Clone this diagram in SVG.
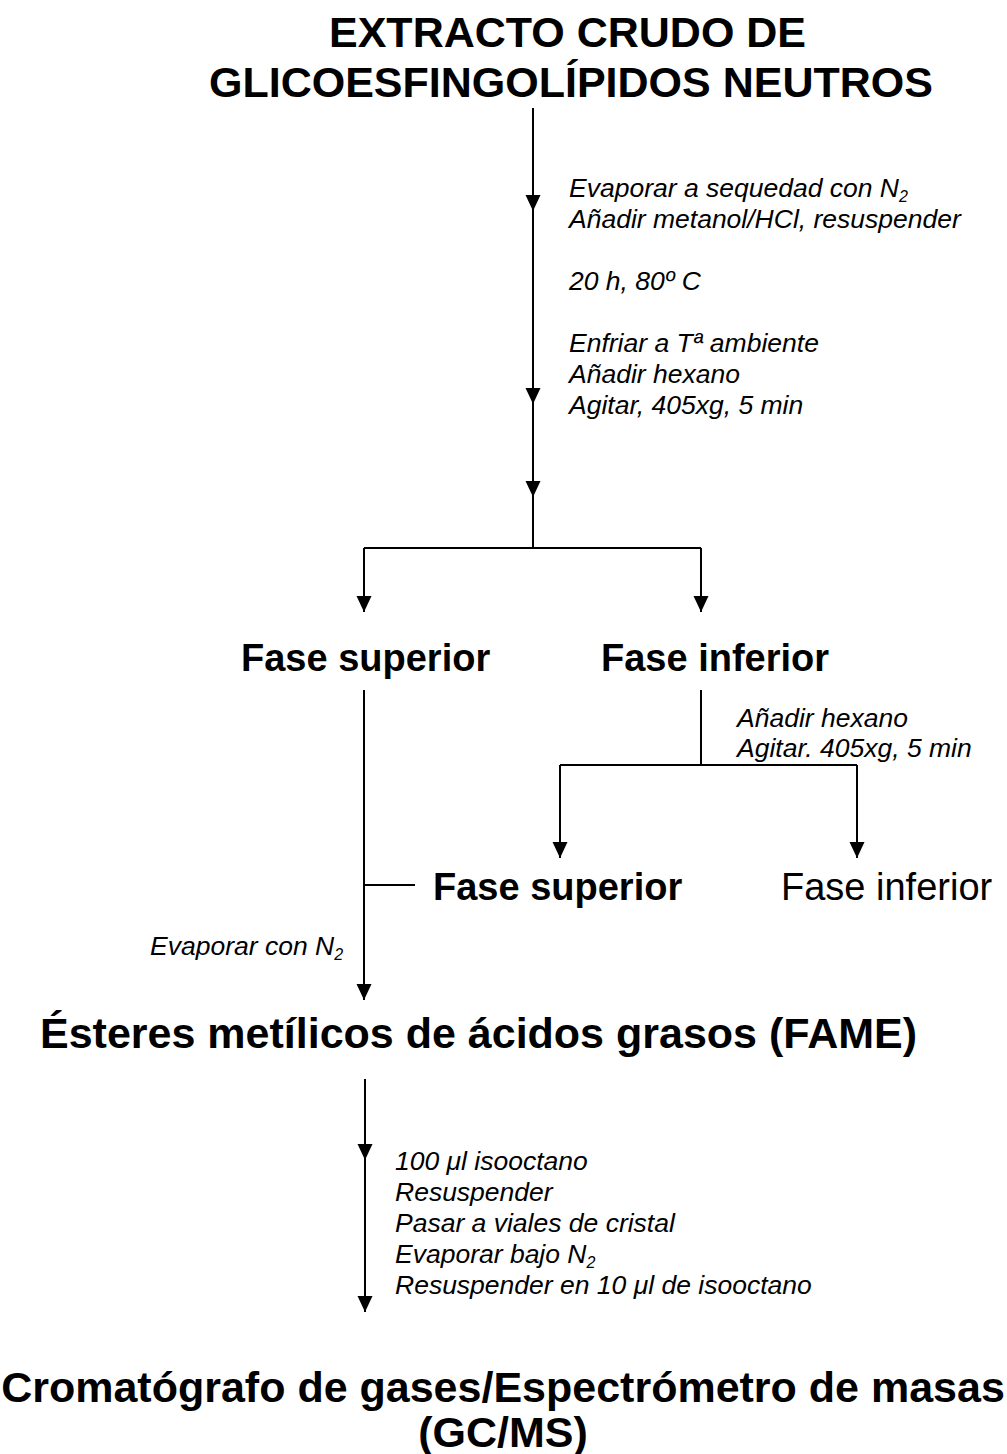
<svg xmlns="http://www.w3.org/2000/svg" width="1007" height="1454" viewBox="0 0 1007 1454">
<defs>
<style>
.t{font-family:"Liberation Sans",Arial,sans-serif;fill:#000}
.h{font-size:43px;font-weight:bold}
.f{font-size:38px;font-weight:bold}
.r{font-size:38px}
.n{font-size:26.5px;font-style:italic}
.ln{stroke:#000;stroke-width:2;fill:none}
</style>
<path id="ah" d="M-7.5,-16 L7.5,-16 L0,0 Z" fill="#000"/>
</defs>
<rect width="1007" height="1454" fill="#fff"/>
<g id="connectors">
<path class="ln" d="M533,108 V548 M364,548 H701 M364,548 V612 M701,548 V612"/>
<use href="#ah" x="533" y="211"/>
<use href="#ah" x="533" y="404"/>
<use href="#ah" x="533" y="497"/>
<use href="#ah" x="364" y="612"/>
<use href="#ah" x="701" y="612"/>
<path class="ln" d="M364,690 V1000 M364,885 H415 M701,690 V765 M560,765 H857 M560,765 V858 M857,765 V858"/>
<use href="#ah" x="560" y="858"/>
<use href="#ah" x="857" y="858"/>
<use href="#ah" x="364" y="1000"/>
<path class="ln" d="M365,1079 V1312"/>
<use href="#ah" x="365" y="1160"/>
<use href="#ah" x="365" y="1312"/>
</g>
<g id="n-extracto">
<text class="t h" x="329" y="47">EXTRACTO CRUDO DE</text>
<text class="t h" x="209" y="97">GLICOESFINGOLÍPIDOS NEUTROS</text>
</g>
<g id="step1">
<text class="t n" x="569" y="197">Evaporar a sequedad con N<tspan font-size="16" dy="5">2</tspan></text>
<text class="t n" x="569" y="228">Añadir metanol/HCl, resuspender</text>
<text class="t n" x="569" y="290">20 h, 80º C</text>
<text class="t n" x="569" y="352">Enfriar a Tª ambiente</text>
<text class="t n" x="569" y="383">Añadir hexano</text>
<text class="t n" x="569" y="414">Agitar, 405xg, 5 min</text>
</g>
<g id="n-fase-sup-1"><text class="t f" x="241" y="671">Fase superior</text></g>
<g id="n-fase-inf-1"><text class="t f" x="601" y="671">Fase inferior</text></g>
<g id="step2">
<text class="t n" x="737" y="727">Añadir hexano</text>
<text class="t n" x="737" y="757">Agitar. 405xg, 5 min</text>
</g>
<g id="n-fase-sup-2"><text class="t f" x="433" y="900">Fase superior</text></g>
<g id="n-fase-inf-2"><text class="t r" x="781" y="900">Fase inferior</text></g>
<g id="step3"><text class="t n" x="150" y="955">Evaporar con N<tspan font-size="16" dy="5">2</tspan></text></g>
<g id="n-fame"><text class="t h" x="40" y="1048">Ésteres metílicos de ácidos grasos (FAME)</text></g>
<g id="step4">
<text class="t n" x="395" y="1170">100 μl isooctano</text>
<text class="t n" x="395" y="1201">Resuspender</text>
<text class="t n" x="395" y="1232">Pasar a viales de cristal</text>
<text class="t n" x="395" y="1263">Evaporar bajo N<tspan font-size="16" dy="5">2</tspan></text>
<text class="t n" x="395" y="1294">Resuspender en 10 μl de isooctano</text>
</g>
<g id="n-gcms">
<text class="t h" x="503" y="1402" text-anchor="middle" font-size="42.5">Cromatógrafo de gases/Espectrómetro de masas</text>
<text class="t h" x="503" y="1447" text-anchor="middle">(GC/MS)</text>
</g>
</svg>
